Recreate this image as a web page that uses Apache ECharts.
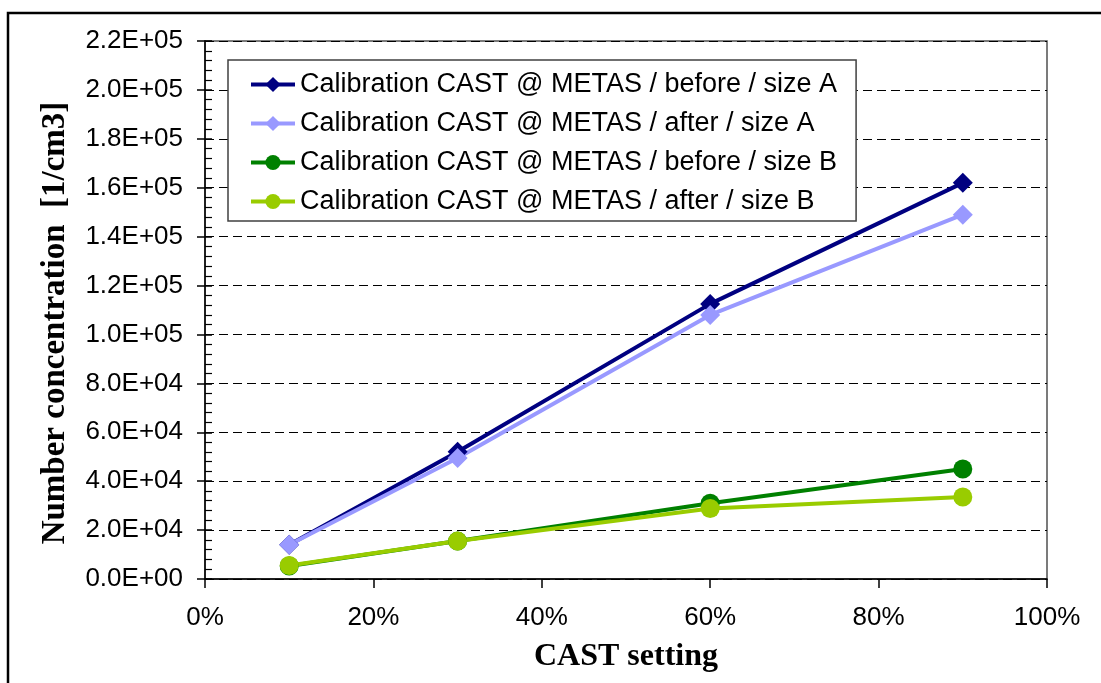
<!DOCTYPE html>
<html>
<head>
<meta charset="utf-8">
<title>Number concentration vs CAST setting</title>
<script src="https://cdn.jsdelivr.net/npm/echarts@6/dist/echarts.min.js"></script>
<style>
  html, body { margin: 0; padding: 0; background: #fff; }
  #chart { width: 1101px; height: 683px; }
</style>
</head>
<body>
<div id="chart"></div>
<script>
// CAST setting (fraction of full scale)
const castSetting = [0.10, 0.30, 0.60, 0.90];

// Number concentration [1/cm3]
const beforeSizeA = [14000, 52000, 112500, 162000];
const afterSizeA  = [14000, 49500, 108000, 149000];
const beforeSizeB = [5300, 15500, 31000, 45000];
const afterSizeB  = [5500, 15500, 28800, 33500];

const seriesNames = [
  'Calibration CAST @ METAS / before / size A',
  'Calibration CAST @ METAS / after / size A',
  'Calibration CAST @ METAS / before / size B',
  'Calibration CAST @ METAS / after / size B'
];

const xTitle = 'CAST setting';
const yTitle = 'Number concentration  [1/cm3]';

const yMin = 0, yMax = 220000, yStep = 20000;
const xMin = 0, xMax = 1, xStep = 0.2;

// Scientific notation with a two-digit exponent, e.g. 2.2E+05
function sci(v) {
  if (v === 0) return '0.0E+00';
  const exp = Math.floor(Math.log10(Math.abs(v)));
  const mant = v / Math.pow(10, exp);
  const sign = exp < 0 ? '-' : '+';
  return mant.toFixed(1) + 'E' + sign + String(Math.abs(exp)).padStart(2, '0');
}

function pairs(ys) { return castSetting.map((x, i) => [x, ys[i]]); }

const sans = '"Liberation Sans", Arial, sans-serif';
const serif = '"Liberation Serif", "Times New Roman", serif';

const chart = echarts.init(document.getElementById('chart'), null, { renderer: 'canvas' });

function lineSeries(name, ys, color, symbol, size) {
  return {
    name: name,
    type: 'line',
    yAxisIndex: 0,
    data: pairs(ys),
    symbol: symbol,
    symbolSize: size,
    showAllSymbol: true,
    lineStyle: { color: color, width: 4 },
    itemStyle: { color: color, borderColor: color, borderWidth: 0 },
    emphasis: { disabled: true },
    animation: false
  };
}

const titleStyle = { fontFamily: serif, fontWeight: 'bold', fill: '#000', align: 'center', verticalAlign: 'middle' };

chart.setOption({
  backgroundColor: '#fff',
  animation: false,
  graphic: [{
    // outer chart frame
    type: 'rect',
    shape: { x: 8, y: 13, width: 1300, height: 900 },
    style: { fill: null, stroke: '#000', lineWidth: 2.5 },
    z: 100, silent: true
  }, {
    type: 'text',
    x: 626, y: 657,
    style: Object.assign({ text: xTitle, fontSize: 32 }, titleStyle),
    silent: true
  }, {
    type: 'text',
    x: 55, y: 323,
    rotation: Math.PI / 2,
    style: Object.assign({ text: yTitle, fontSize: 33 }, titleStyle),
    silent: true
  }],
  grid: {
    left: 205, right: 54, top: 41, bottom: 104,
    show: true, borderColor: '#505050', borderWidth: 1.5,
    backgroundColor: 'transparent'
  },
  legend: {
    orient: 'vertical',
    left: 228, top: 60,
    padding: [11, 19, 6, 21],
    itemWidth: 44, itemHeight: 19, itemGap: 12,
    backgroundColor: '#fff',
    borderColor: '#404040', borderWidth: 1.5,
    lineStyle: { width: 4 },
    textStyle: { fontFamily: sans, fontSize: 27, color: '#000' },
    data: seriesNames
  },
  xAxis: {
    type: 'value', min: xMin, max: xMax, interval: xStep,
    axisLine: { show: true, lineStyle: { color: '#000', width: 1.5 } },
    axisTick: { show: true, inside: false, length: 9, lineStyle: { color: '#000', width: 1.5 } },
    axisLabel: {
      fontFamily: sans, fontSize: 26, color: '#000', margin: 26,
      formatter: v => Math.round(v * 100) + '%'
    },
    splitLine: { show: false }
  },
  yAxis: [{
    type: 'value', min: yMin, max: yMax, interval: yStep,
    position: 'left',
    axisLine: { show: true, lineStyle: { color: '#000', width: 1.5 } },
    axisTick: { show: true, inside: false, length: 8, lineStyle: { color: '#000', width: 1.5 } },
    axisLabel: { fontFamily: sans, fontSize: 26, color: '#000', margin: 22, formatter: sci },
    splitLine: { show: true, lineStyle: { color: '#000', width: 1, type: [9, 5] } }
  }, {
    // inner tick marks with minor divisions
    type: 'value', min: yMin, max: yMax, interval: yStep,
    position: 'left',
    axisLine: { show: false },
    axisTick: { show: true, inside: true, length: 7, lineStyle: { color: '#000', width: 1.5 } },
    minorTick: { show: true, splitNumber: 5, length: 7, lineStyle: { color: '#000', width: 1.2 } },
    axisLabel: { show: false },
    splitLine: { show: false }
  }],
  series: [
    lineSeries(seriesNames[0], beforeSizeA, '#000080', 'diamond', 20),
    lineSeries(seriesNames[1], afterSizeA,  '#9999FF', 'diamond', 20),
    lineSeries(seriesNames[2], beforeSizeB, '#008000', 'circle', 19),
    lineSeries(seriesNames[3], afterSizeB,  '#99CC00', 'circle', 19)
  ]
});
</script>
</body>
</html>
